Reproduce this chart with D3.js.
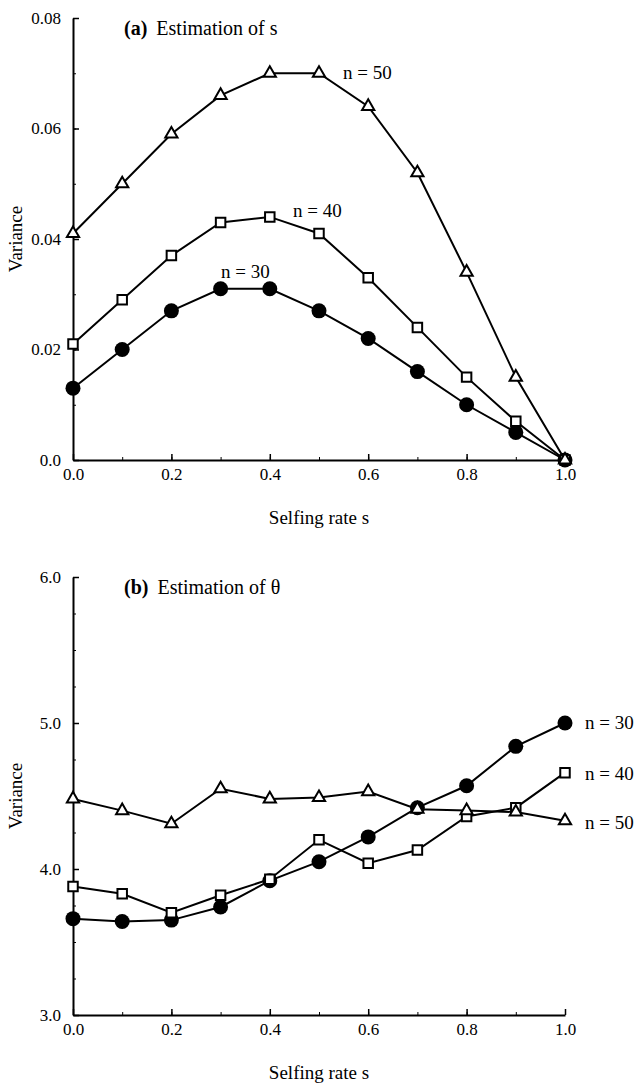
<!DOCTYPE html>
<html>
<head>
<meta charset="utf-8">
<script src="https://cdn.jsdelivr.net/npm/d3@7"></script>
<style>
  body { margin: 0; background: #fff; }
  text { font-family: "Liberation Serif", "Times New Roman", serif; fill: #000; }
</style>
</head>
<body>
<svg id="chart" width="638" height="1084"></svg>
<script>
// selfing rate s (x values shared by every series)
const selfing = [0, 0.1, 0.2, 0.3, 0.4, 0.5, 0.6, 0.7, 0.8, 0.9, 1.0];

// (a) variance of the estimate of s
const sN30 = [0.013, 0.020, 0.027, 0.031, 0.031, 0.027, 0.022, 0.016, 0.010, 0.005, 0];
const sN40 = [0.021, 0.029, 0.037, 0.043, 0.044, 0.041, 0.033, 0.024, 0.015, 0.007, 0];
const sN50 = [0.041, 0.050, 0.059, 0.066, 0.070, 0.070, 0.064, 0.052, 0.034, 0.015, 0];

// (b) variance of the estimate of theta
const tN30 = [3.66, 3.64, 3.65, 3.74, 3.92, 4.05, 4.22, 4.42, 4.57, 4.84, 5.00];
const tN40 = [3.88, 3.83, 3.70, 3.82, 3.93, 4.20, 4.04, 4.13, 4.36, 4.42, 4.66];
const tN50 = [4.48, 4.40, 4.31, 4.55, 4.48, 4.49, 4.53, 4.41, 4.40, 4.39, 4.33];

const xTicks = [0, 0.2, 0.4, 0.6, 0.8, 1.0];
const aTicks = [0, 0.02, 0.04, 0.06, 0.08];
const bTicks = [3, 4, 5, 6];

const svg = d3.select("#chart");

function drawPanel(opt) {
  const g = svg.append("g");
  const x = d3.scaleLinear().domain([0, 1]).range([73, 565]);
  const y = d3.scaleLinear().domain(opt.yDomain).range([opt.bottom, opt.top]);

  // minor ticks first (inward, no labels)
  g.append("g")
    .attr("transform", `translate(0,${opt.bottom})`)
    .call(d3.axisBottom(x).tickValues(d3.range(0, 1.001, 0.1)).tickSize(-3).tickFormat(""))
    .call(a => a.select(".domain").remove());
  g.append("g")
    .attr("transform", "translate(73,0)")
    .call(d3.axisLeft(y).tickValues(opt.minor).tickSize(-3).tickFormat(""))
    .call(a => a.select(".domain").remove());

  // main axes
  const xa = g.append("g")
    .attr("transform", `translate(0,${opt.bottom})`)
    .call(d3.axisBottom(x).tickValues(xTicks).tickSizeInner(-6).tickSizeOuter(0).tickPadding(14)
      .tickFormat(d3.format(".1f")));
  const ya = g.append("g")
    .attr("transform", "translate(73,0)")
    .call(d3.axisLeft(y).tickValues(opt.ticks).tickSizeInner(-6).tickSizeOuter(0).tickPadding(12)
      .tickFormat(opt.fmt));
  [xa, ya].forEach(a => {
    a.select(".domain").attr("stroke-width", 2);
    a.selectAll(".tick line").attr("stroke-width", 1.5);
    a.selectAll("text").style("font-size", "17px").attr("font-family", null);
  });
  xa.selectAll("text").attr("dy", "0.35em");

  // axis titles
  g.append("text")
    .attr("x", 319).attr("y", opt.bottom + 64)
    .attr("text-anchor", "middle")
    .style("font-size", "19px")
    .text("Selfing rate s");
  g.append("text")
    .attr("transform", `translate(22,${(opt.top + opt.bottom) / 2}) rotate(-90)`)
    .attr("text-anchor", "middle")
    .style("font-size", "19px")
    .text("Variance");

  // panel title
  const t = g.append("text")
    .attr("x", 124).attr("y", opt.top + 17)
    .style("font-size", "20px");
  t.append("tspan").attr("font-weight", "bold").text(opt.tag);
  t.append("tspan").attr("dx", 9).text(opt.title);

  const line = d3.line().x((d, i) => x(selfing[i])).y(d => y(d));

  opt.series.forEach(s => {
    g.append("path")
      .datum(s.values)
      .attr("fill", "none")
      .attr("stroke", "#000")
      .attr("stroke-width", 2)
      .attr("d", line);

    const pts = g.append("g").selectAll("g")
      .data(s.values)
      .join("g")
      .attr("transform", (d, i) => `translate(${x(selfing[i])},${y(d)})`);

    if (s.shape === "circle") {
      pts.append("circle").attr("r", 7.5).attr("fill", "#000");
    } else if (s.shape === "square") {
      pts.append("path")
        .attr("d", d3.symbol().type(d3.symbolSquare).size(90))
        .attr("fill", "#fff").attr("stroke", "#000").attr("stroke-width", 2);
    } else {
      pts.append("path")
        .attr("d", d3.symbol().type(d3.symbolTriangle).size(65))
        .attr("fill", "#fff").attr("stroke", "#000").attr("stroke-width", 2);
    }
  });

  opt.labels.forEach(l => {
    g.append("text")
      .attr("x", l.x).attr("y", l.y)
      .attr("dy", "0.35em")
      .style("font-size", "19px")
      .text(l.text);
  });
}

drawPanel({
  top: 18, bottom: 460,
  yDomain: [0, 0.08],
  ticks: aTicks,
  minor: d3.range(0, 0.0801, 0.01),
  fmt: d => d === 0 ? "0.0" : d3.format(".2f")(d),
  tag: "(a)",
  title: "Estimation of s",
  series: [
    { values: sN30, shape: "circle" },
    { values: sN40, shape: "square" },
    { values: sN50, shape: "triangle" }
  ],
  labels: [
    { x: 343, y: 72, text: "n = 50" },
    { x: 293, y: 210, text: "n = 40" },
    { x: 221, y: 271, text: "n = 30" }
  ]
});

drawPanel({
  top: 577, bottom: 1015,
  yDomain: [3, 6],
  ticks: bTicks,
  minor: d3.range(3, 6.01, 0.25),
  fmt: d3.format(".1f"),
  tag: "(b)",
  title: "Estimation of  θ",
  series: [
    { values: tN30, shape: "circle" },
    { values: tN40, shape: "square" },
    { values: tN50, shape: "triangle" }
  ],
  labels: [
    { x: 585, y: 722, text: "n = 30" },
    { x: 585, y: 773, text: "n = 40" },
    { x: 585, y: 822, text: "n = 50" }
  ]
});
</script>
</body>
</html>
